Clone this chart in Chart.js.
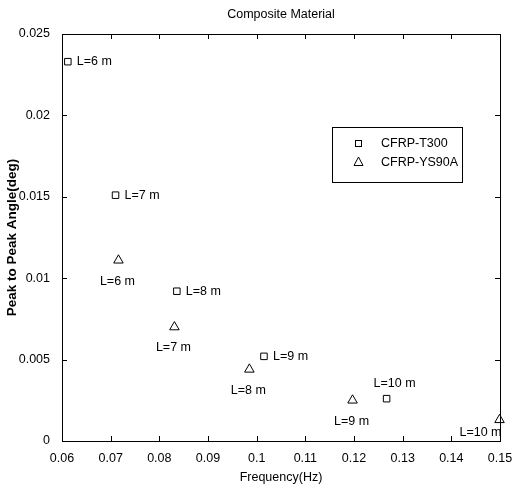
<!DOCTYPE html>
<html>
<head>
<meta charset="utf-8">
<script src="https://cdn.jsdelivr.net/npm/chart.js@4.4.1/dist/chart.umd.min.js"></script>
<style>
    html, body { margin: 0; padding: 0; background: #fff; }
    #box { width: 512px; height: 489px; }
</style>
</head>
<body>
<div id="box"><canvas id="grafico"></canvas></div>
<script>
// dados
const xTicks = [0.06, 0.07, 0.08, 0.09, 0.1, 0.11, 0.12, 0.13, 0.14, 0.15];
const yTicks = [0, 0.005, 0.01, 0.015, 0.02, 0.025];

const t300Freq = [0.0612, 0.0710, 0.0836, 0.1015, 0.1267];
const t300Angle = [0.0233, 0.0151, 0.0092, 0.0052, 0.0026];
const t300Labels = ['L=6 m', 'L=7 m', 'L=8 m', 'L=9 m', 'L=10 m'];
const t300Place = ['right', 'right', 'right', 'right', 'above'];

const ys90aFreq = [0.0716, 0.0831, 0.0985, 0.1197, 0.1499];
const ys90aAngle = [0.0111, 0.0070, 0.0044, 0.0025, 0.0013];
const ys90aLabels = ['L=6 m', 'L=7 m', 'L=8 m', 'L=9 m', 'L=10 m'];
const ys90aPlace = ['below', 'below', 'below', 'below', 'left'];

const fonte = '"Liberation Sans", Arial, sans-serif';

function pontos(xs, ys) {
    return xs.map((x, i) => ({ x: x, y: ys[i] }));
}

const extras = {
    id: 'extras',
    afterDatasetsDraw(chart) {
        const ctx = chart.ctx;
        const area = chart.chartArea;
        const sx = chart.scales.x;
        const sy = chart.scales.y;
        ctx.save();

        // caixa e ticks para dentro
        ctx.strokeStyle = '#000';
        ctx.lineWidth = 1;
        ctx.strokeRect(area.left + 0.5, area.top + 0.5, area.right - area.left, area.bottom - area.top);
        ctx.beginPath();
        xTicks.forEach(v => {
            const px = Math.round(sx.getPixelForValue(v)) + 0.5;
            ctx.moveTo(px, area.bottom); ctx.lineTo(px, area.bottom - 5);
            ctx.moveTo(px, area.top); ctx.lineTo(px, area.top + 5);
        });
        yTicks.forEach(v => {
            const py = Math.round(sy.getPixelForValue(v)) + 0.5;
            ctx.moveTo(area.left, py); ctx.lineTo(area.left + 5, py);
            ctx.moveTo(area.right, py); ctx.lineTo(area.right - 5, py);
        });
        ctx.stroke();

        // rotulos dos pontos
        ctx.fillStyle = '#000';
        ctx.font = '12.5px ' + fonte;
        const rotular = (xs, ys, labels, place) => {
            labels.forEach((txt, i) => {
                const px = sx.getPixelForValue(xs[i]);
                const py = sy.getPixelForValue(ys[i]);
                ctx.textBaseline = 'middle';
                if (place[i] == 'right') {
                    ctx.textAlign = 'left';
                    ctx.fillText(txt, px + 9, py);
                } else if (place[i] == 'below') {
                    ctx.textAlign = 'center';
                    ctx.fillText(txt, px - 1, py + 21);
                } else if (place[i] == 'above') {
                    ctx.textAlign = 'center';
                    ctx.fillText(txt, px + 8, py - 15);
                } else {
                    ctx.textAlign = 'right';
                    ctx.fillText(txt, px + 2, py + 13);
                }
            });
        };
        rotular(t300Freq, t300Angle, t300Labels, t300Place);
        rotular(ys90aFreq, ys90aAngle, ys90aLabels, ys90aPlace);

        // titulo
        ctx.textAlign = 'center';
        ctx.textBaseline = 'middle';
        ctx.font = '12.5px ' + fonte;
        ctx.fillText('Composite Material', (area.left + area.right) / 2, 15);

        // legenda
        ctx.fillStyle = '#fff';
        ctx.fillRect(332, 127, 130, 55);
        ctx.strokeRect(332.5, 127.5, 130, 55);
        ctx.fillStyle = '#000';
        ctx.textAlign = 'left';
        ctx.strokeRect(355.5, 140.5, 6, 6);
        ctx.beginPath();
        ctx.moveTo(358.5, 157);
        ctx.lineTo(363, 165.5);
        ctx.lineTo(354, 165.5);
        ctx.closePath();
        ctx.stroke();
        ctx.fillText('CFRP-T300', 381, 144);
        ctx.fillText('CFRP-YS90A', 381, 163);

        ctx.restore();
    }
};

const ctx = document.getElementById('grafico').getContext('2d');
new Chart(ctx, {
    type: 'scatter',
    data: {
        datasets: [
            {
                label: 'CFRP-T300',
                data: pontos(t300Freq, t300Angle),
                pointStyle: 'rect',
                pointRadius: 4.6,
                borderColor: '#000',
                backgroundColor: 'rgba(0,0,0,0)',
                borderWidth: 1,
                clip: false
            },
            {
                label: 'CFRP-YS90A',
                data: pontos(ys90aFreq, ys90aAngle),
                pointStyle: 'triangle',
                pointRadius: 5.5,
                borderColor: '#000',
                backgroundColor: 'rgba(0,0,0,0)',
                borderWidth: 1,
                clip: false
            }
        ]
    },
    options: {
        responsive: true,
        maintainAspectRatio: false,
        animation: false,
        layout: { padding: { top: 34, right: 0, left: 0, bottom: 4 } },
        plugins: {
            legend: { display: false },
            tooltip: { enabled: false }
        },
        scales: {
            x: {
                type: 'linear',
                min: 0.06,
                max: 0.15,
                afterBuildTicks: s => { s.ticks = xTicks.map(v => ({ value: v })); },
                afterFit: s => { s.height = 44; s.paddingRight = 12; },
                grid: { display: false },
                border: { display: false },
                ticks: {
                    color: '#000',
                    font: { family: fonte, size: 12.5 },
                    padding: 2,
                    maxRotation: 0,
                    callback: v => String(parseFloat(v.toFixed(3)))
                },
                title: {
                    display: true,
                    text: 'Frequency(Hz)',
                    color: '#000',
                    font: { family: fonte, size: 12.5 },
                    padding: { top: 3, bottom: 0 }
                }
            },
            y: {
                type: 'linear',
                min: 0,
                max: 0.025,
                afterBuildTicks: s => { s.ticks = yTicks.map(v => ({ value: v })); },
                afterFit: s => { s.width = 62; },
                grid: { display: false },
                border: { display: false },
                ticks: {
                    color: '#000',
                    font: { family: fonte, size: 12.5 },
                    padding: 4,
                    callback: v => String(parseFloat(v.toFixed(3)))
                },
                title: {
                    display: true,
                    text: 'Peak to Peak Angle(deg)',
                    color: '#000',
                    font: { family: fonte, size: 13.5, weight: 'bold' },
                    padding: { top: 4, bottom: 0 }
                }
            }
        }
    },
    plugins: [extras]
});
</script>
</body>
</html>
